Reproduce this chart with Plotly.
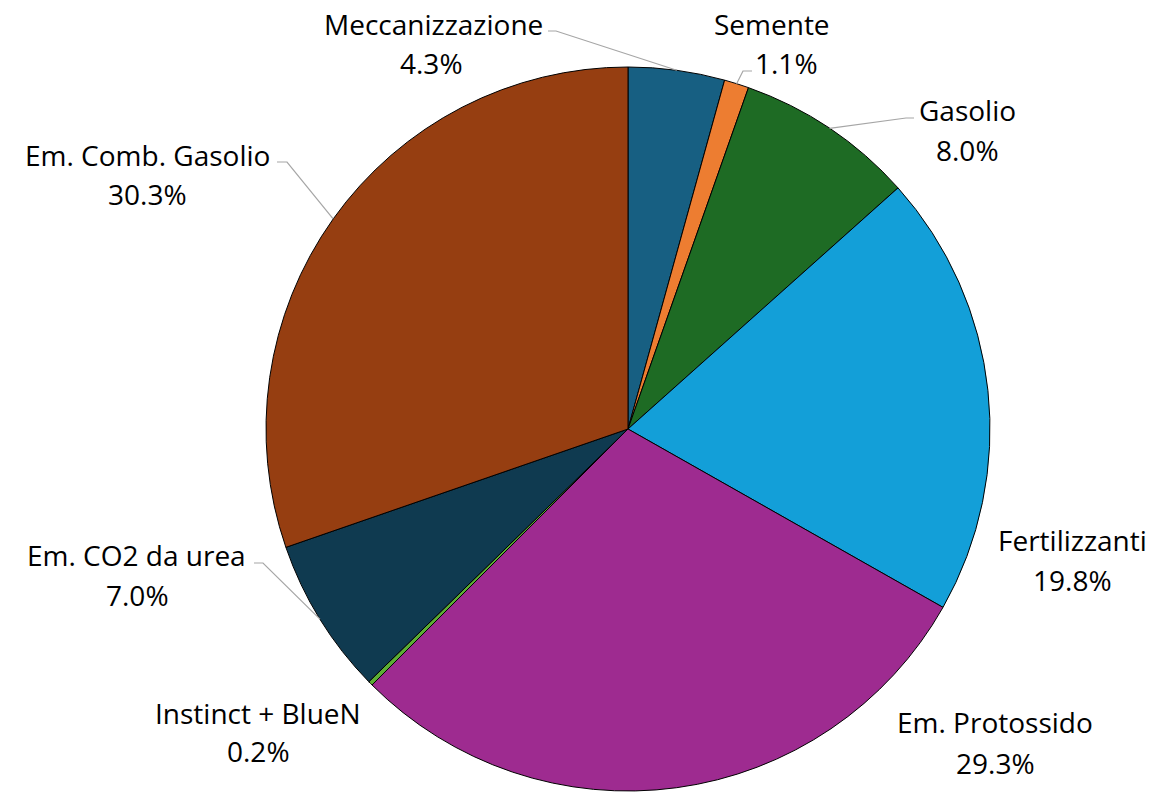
import math
import plotly.graph_objects as go

labels = ["Meccanizzazione", "Semente", "Gasolio", "Fertilizzanti",
          "Em. Protossido", "Instinct + BlueN", "Em. CO2 da urea", "Em. Comb. Gasolio"]
values = [4.3, 1.1, 8.0, 19.8, 29.3, 0.2, 7.0, 30.3]
colors = ["#175f82", "#ed7d31", "#1e6b24", "#139fd8",
          "#9e2b90", "#5cae34", "#0f3a50", "#963e11"]

W, H = 1176, 792
CX, CY, R = 628, 429, 362

def px(x):
    return x / W

def py(y):
    return 1 - y / H

fig = go.Figure(go.Pie(
    labels=labels, values=values, sort=False, direction="clockwise", rotation=0,
    marker=dict(colors=colors, line=dict(color="#000000", width=1)),
    textinfo="none", hoverinfo="label+percent", showlegend=False,
    domain=dict(x=[px(CX - R), px(CX + R)], y=[max(0, py(CY + R)), py(CY - R)]),
))

# label placement (pixel centres of the name line and the percent line)
label_pos = {
    "Meccanizzazione": ((433, 24), (431, 63)),
    "Semente": ((772, 24), (786, 63)),
    "Gasolio": ((967, 110), (967, 150)),
    "Fertilizzanti": ((1072, 540), (1072, 580)),
    "Em. Protossido": ((995, 722), (995, 763)),
    "Instinct + BlueN": ((258, 713), (258, 751)),
    "Em. CO2 da urea": ((136, 555), (137, 595)),
    "Em. Comb. Gasolio": ((147, 155), (147, 194)),
}
# leader-line anchor near the label (start, elbow)
leaders = {
    "Meccanizzazione": ((548, 31), (556, 31)),
    "Semente": ((752, 71), (743, 71)),
    "Gasolio": ((914, 118), (906, 118)),
    "Em. CO2 da urea": ((254, 563), (263, 563)),
    "Em. Comb. Gasolio": ((277, 162), (287, 162)),
}

font = dict(family="Open Sans, Noto Sans, sans-serif", size=28, color="#000000")
total = sum(values)
annotations = []
shapes = []
cum = 0.0
for lab, v in zip(labels, values):
    mid = (cum + v / 2) / total * 2 * math.pi
    cum += v
    (x1, y1), (x2, y2) = label_pos[lab]
    annotations.append(dict(x=px(x1), y=py(y1), xref="paper", yref="paper", text=lab,
                            showarrow=False, xanchor="center", yanchor="middle", font=font))
    annotations.append(dict(x=px(x2), y=py(y2), xref="paper", yref="paper",
                            text=f"{v / total * 100:.1f}%",
                            showarrow=False, xanchor="center", yanchor="middle", font=font))
    if lab in leaders:
        ex = CX + R * math.sin(mid)
        ey = CY - R * math.cos(mid)
        (sx, sy), (bx, by) = leaders[lab]
        path = f"M {px(sx)} {py(sy)} L {px(bx)} {py(by)} L {px(ex)} {py(ey)}"
        shapes.append(dict(type="path", path=path, xref="paper", yref="paper",
                           line=dict(color="#a6a6a6", width=1.2)))

fig.update_layout(
    width=W, height=H, margin=dict(l=0, r=0, t=0, b=0),
    paper_bgcolor="#ffffff", plot_bgcolor="#ffffff",
    annotations=annotations, shapes=shapes,
)
fig.write_html(
    "out.html",
    config={"displayModeBar": False},
    post_script="document.body.style.margin='0';document.body.style.overflow='hidden';",
)
